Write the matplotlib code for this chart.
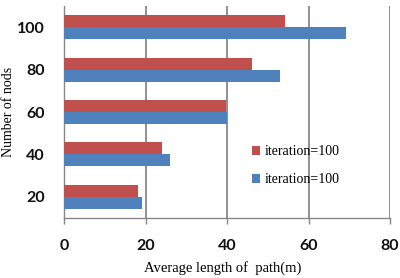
import matplotlib
matplotlib.use("Agg")
import matplotlib.pyplot as plt
import numpy as np

nodes = ["20", "40", "60", "80", "100"]
red_vals = [18.0, 24.1, 39.6, 46.2, 54.1]
blue_vals = [19.0, 25.9, 40.0, 52.9, 69.3]
series_labels = ["iteration=100", "iteration=100"]
x_ticks = [0, 20, 40, 60, 80]

RED = "#C0504D"
BLUE = "#4F81BD"
GRID = "#878787"

fig = plt.figure(figsize=(4.0, 2.78), dpi=100)
ax = fig.add_axes([0.161, 0.216, 0.814, 0.762])

y = np.arange(len(nodes))
h = 0.285
ax.barh(y + h / 2, red_vals, height=h, color=RED, label=series_labels[0], zorder=3)
ax.barh(y - h / 2, blue_vals, height=h, color=BLUE, label=series_labels[1], zorder=3)

ax.set_xlim(0, 80)
ax.set_ylim(-0.5, 4.5)
ax.set_xticks(x_ticks)
ax.set_yticks(y)
ax.set_yticklabels(nodes)
ax.xaxis.grid(True, color=GRID, linewidth=1.3, zorder=0)
ax.set_axisbelow(True)

for s in ["top", "right"]:
    ax.spines[s].set_visible(False)
for s in ["left", "bottom"]:
    ax.spines[s].set_color(GRID)
    ax.spines[s].set_linewidth(1.0)

ax.tick_params(axis="x", length=4, width=1.0, color=GRID, pad=11, labelsize=11.5)
ax.tick_params(axis="y", length=0, pad=14, labelsize=11.5)
for lab in ax.get_xticklabels() + ax.get_yticklabels():
    lab.set_fontfamily("Lato")
    lab.set_fontweight("bold")
    lab.set_color("#111111")

ax.set_xlabel("Average length of  path(m)", family="Liberation Serif", fontsize=10.5)
ax.set_ylabel("Number of nods", family="Liberation Serif", fontsize=10)
ax.xaxis.set_label_coords((223 - 64.5) / 325.6, (218 - 268) / 211.8)
ax.yaxis.set_label_coords((9 - 64.5) / 325.6, 0.5)
ax.xaxis.label.set_va("center")
ax.yaxis.label.set_va("center")

leg = ax.legend(loc="upper left", frameon=False,
                prop=dict(family="Liberation Serif", size=10),
                handlelength=0.6, handleheight=0.6, handletextpad=0.3, labelspacing=1.1,
                borderpad=0, borderaxespad=0)
leg.set_bbox_to_anchor((252 / 400, 1 - 145 / 278), transform=fig.transFigure)

fig.savefig("out.png", dpi=100)
